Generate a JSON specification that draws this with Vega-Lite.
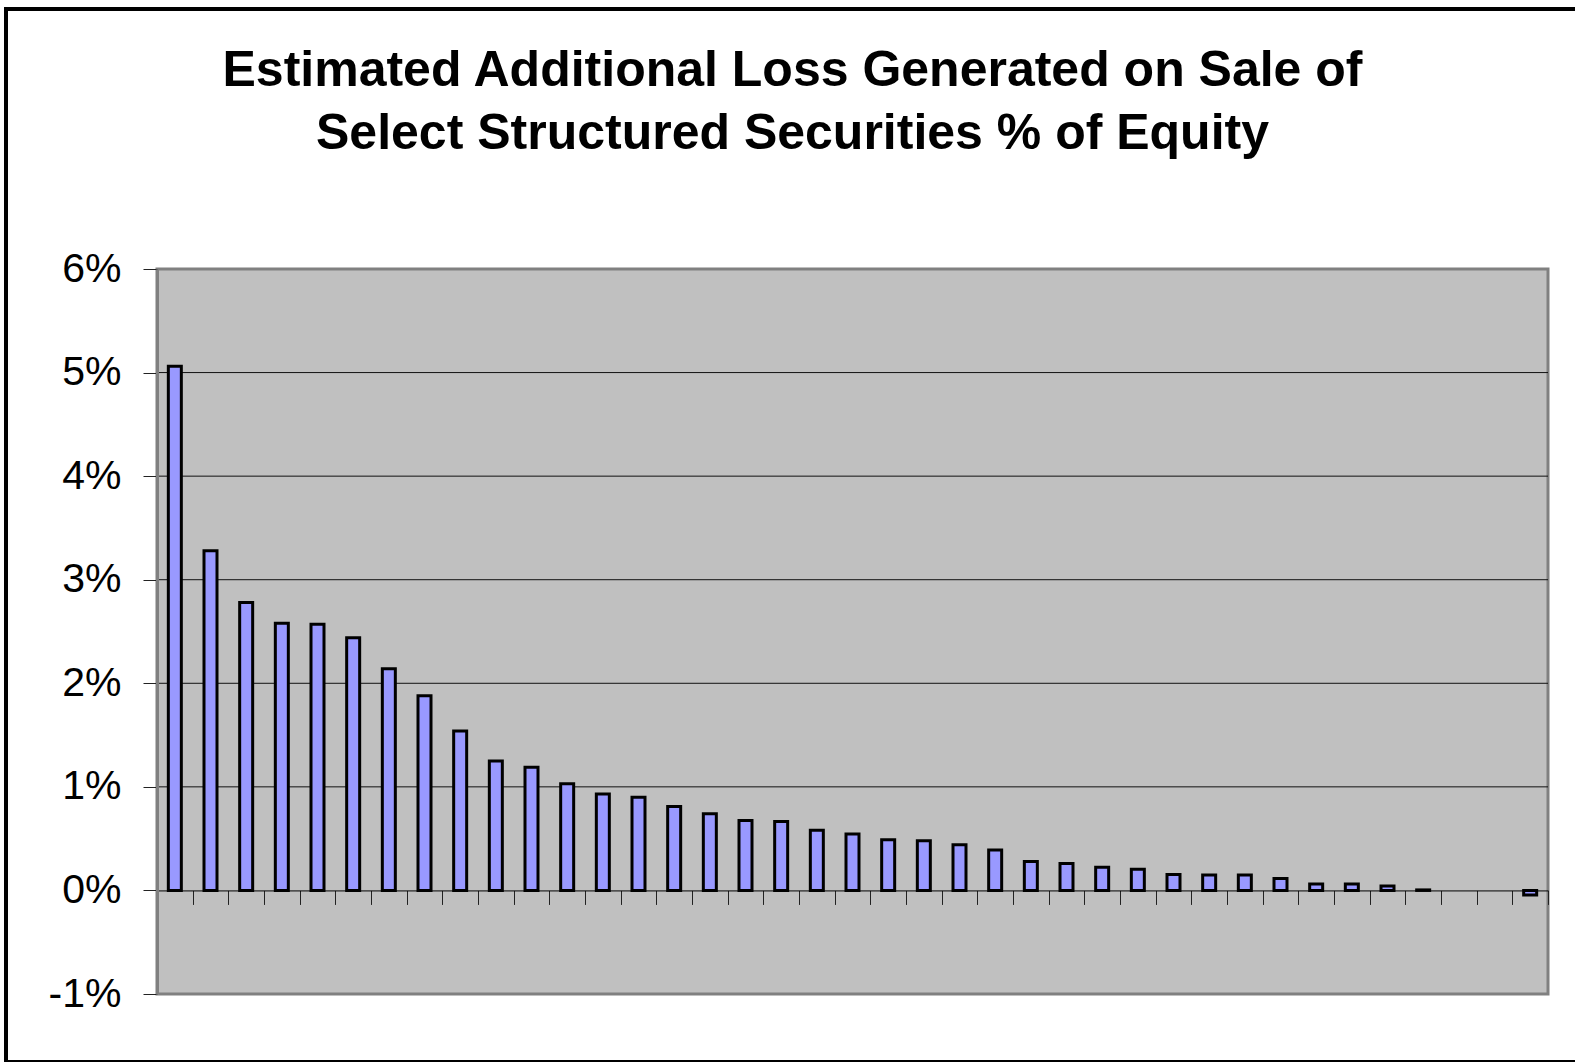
{
  "$schema": "https://vega.github.io/schema/vega-lite/v6.json",
  "autosize": {"type": "none"},
  "width": 1573,
  "height": 1053,
  "padding": {"left": 6, "top": 9, "right": -4, "bottom": 0},
  "background": "white",
  "title": {
    "text": ["Estimated Additional Loss Generated on Sale of", "Select Structured Securities % of Equity"],
    "font": "Liberation Sans",
    "fontSize": 50,
    "fontWeight": "bold",
    "color": "black",
    "anchor": "middle",
    "frame": "group",
    "lineHeight": 63,
    "offset": -150
  },
  "config": {
    "view": {"stroke": "black", "strokeWidth": 4, "fill": "white"},
    "font": "Liberation Sans"
  },
  "layer": [
    {
      "data": {"values": [{}]},
      "mark": {"type": "rect", "fill": "#C0C0C0", "stroke": "#808080", "strokeWidth": 3},
      "encoding": {
        "x": {"datum": 0.5, "type": "quantitative"},
        "x2": {"datum": 39.5},
        "y": {"datum": -1, "type": "quantitative"},
        "y2": {"datum": 6}
      }
    },
    {
      "data": {"values": [{"level": 1}, {"level": 2}, {"level": 3}, {"level": 4}, {"level": 5}]},
      "mark": {"type": "rule", "color": "#111111", "strokeWidth": 1},
      "encoding": {
        "y": {"field": "level", "type": "quantitative"},
        "x": {"datum": 0.5, "type": "quantitative"},
        "x2": {"datum": 39.5}
      }
    },
    {
      "data": {
        "values": [
          {"security": 1, "loss_pct": 5.06},
          {"security": 2, "loss_pct": 3.28},
          {"security": 3, "loss_pct": 2.78},
          {"security": 4, "loss_pct": 2.58},
          {"security": 5, "loss_pct": 2.57},
          {"security": 6, "loss_pct": 2.44},
          {"security": 7, "loss_pct": 2.14},
          {"security": 8, "loss_pct": 1.88},
          {"security": 9, "loss_pct": 1.54},
          {"security": 10, "loss_pct": 1.25},
          {"security": 11, "loss_pct": 1.19},
          {"security": 12, "loss_pct": 1.03},
          {"security": 13, "loss_pct": 0.93},
          {"security": 14, "loss_pct": 0.9},
          {"security": 15, "loss_pct": 0.81},
          {"security": 16, "loss_pct": 0.74},
          {"security": 17, "loss_pct": 0.675},
          {"security": 18, "loss_pct": 0.665},
          {"security": 19, "loss_pct": 0.58},
          {"security": 20, "loss_pct": 0.545},
          {"security": 21, "loss_pct": 0.49},
          {"security": 22, "loss_pct": 0.48},
          {"security": 23, "loss_pct": 0.44},
          {"security": 24, "loss_pct": 0.39},
          {"security": 25, "loss_pct": 0.28},
          {"security": 26, "loss_pct": 0.26},
          {"security": 27, "loss_pct": 0.225},
          {"security": 28, "loss_pct": 0.205},
          {"security": 29, "loss_pct": 0.155},
          {"security": 30, "loss_pct": 0.15},
          {"security": 31, "loss_pct": 0.15},
          {"security": 32, "loss_pct": 0.115},
          {"security": 33, "loss_pct": 0.063},
          {"security": 34, "loss_pct": 0.063},
          {"security": 35, "loss_pct": 0.043},
          {"security": 36, "loss_pct": 0.005},
          {"security": 39, "loss_pct": -0.045}
        ]
      },
      "mark": {"type": "bar", "width": 13, "fill": "#9999FF", "stroke": "black", "strokeWidth": 3},
      "encoding": {
        "x": {
          "field": "security",
          "type": "quantitative",
          "scale": {"domain": [0.5, 39.5], "range": [151, 1542], "nice": false, "zero": false, "padding": 0},
          "axis": {
            "orient": "bottom",
            "offset": -171.57,
            "values": [0.5, 1.5, 2.5, 3.5, 4.5, 5.5, 6.5, 7.5, 8.5, 9.5, 10.5, 11.5, 12.5, 13.5, 14.5, 15.5, 16.5, 17.5, 18.5, 19.5, 20.5, 21.5, 22.5, 23.5, 24.5, 25.5, 26.5, 27.5, 28.5, 29.5, 30.5, 31.5, 32.5, 33.5, 34.5, 35.5, 36.5, 37.5, 38.5, 39.5],
            "labels": false,
            "title": null,
            "grid": false,
            "ticks": true,
            "tickSize": 14,
            "tickColor": "#222222",
            "tickWidth": 1,
            "domain": true,
            "domainColor": "black",
            "domainWidth": 1,
            "zindex": 1
          }
        },
        "y": {
          "field": "loss_pct",
          "type": "quantitative",
          "scale": {"domain": [-1, 6], "range": [985, 260], "nice": false, "zero": false, "padding": 0},
          "axis": {
            "orient": "left",
            "offset": -151,
            "values": [-1, 0, 1, 2, 3, 4, 5, 6],
            "labelExpr": "datum.value + '%'",
            "labelFont": "Liberation Sans",
            "labelFontSize": 41,
            "labelColor": "black",
            "labelPadding": 22,
            "labelBaseline": "middle",
            "title": null,
            "grid": false,
            "tickSize": 14,
            "tickColor": "#222222",
            "tickWidth": 1,
            "domainColor": "#808080",
            "domainWidth": 3,
            "zindex": 1
          }
        }
      }
    }
  ]
}
